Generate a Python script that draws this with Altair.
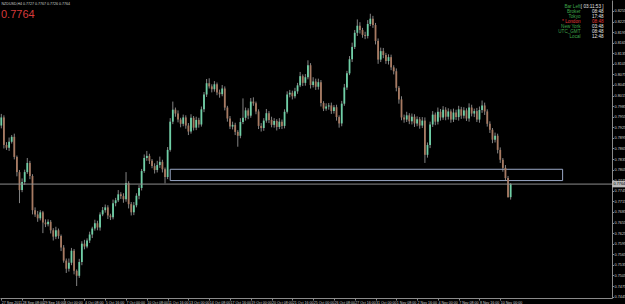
import json
import altair as alt
import pandas as pd

# ---------------- data ----------------
symbol_header = "NZDUSD,H4  0.7727 0.7767 0.7726 0.7764"
first_open = 0.7930
# H4 closes in pips (price * 10000)
closes_pips = [
    7953, 7875, 7867, 7884, 7898, 7841, 7798, 7747, 7770, 7798,
    7824, 7787, 7690, 7678, 7667, 7684, 7655, 7650, 7657, 7633,
    7615, 7633, 7617, 7584, 7547, 7524, 7541, 7575, 7518, 7504,
    7543, 7595, 7587, 7604, 7621, 7638, 7653, 7641, 7678, 7690,
    7698, 7675, 7670, 7710, 7718, 7735, 7730, 7721, 7767, 7707,
    7684, 7704, 7731, 7753, 7801, 7838, 7844, 7830, 7815, 7804,
    7818, 7827, 7806, 7784, 7861, 7941, 7975, 7964, 7947, 7935,
    7953, 7930, 7913, 7952, 7924, 7946, 7933, 7976, 8018, 8050,
    8041, 8033, 8047, 8024, 8019, 8035, 7981, 7950, 7927, 7932,
    7912, 7901, 7940, 7952, 7973, 7958, 7998, 7993, 7970, 7929,
    7923, 7944, 7965, 7946, 7932, 7943, 7926, 7941, 7929, 7969,
    8018, 8023, 8013, 8027, 8044, 8070, 8051, 8067, 8101, 8045,
    8055, 8040, 8053, 7994, 7978, 7984, 7987, 7971, 7982, 7954,
    7936, 7992, 8038, 8078, 8118, 8153, 8193, 8213, 8201, 8187,
    8184, 8218, 8233, 8215, 8170, 8117, 8141, 8130, 8113, 8124,
    8095, 8084, 8037, 8004, 7953, 7947, 7959, 7942, 7955, 7936,
    7948, 7930, 7944, 7847, 7875, 7933, 7961, 7941, 7969, 7953,
    7975, 7955, 7970, 7947, 7967, 7954, 7976, 7958, 7973, 7950,
    7981, 7964, 7971, 7947, 7974, 7987, 7970, 7935, 7918, 7890,
    7901, 7861, 7833, 7810, 7781, 7727, 7764,
]
# upper / lower shadow lengths in pips
up_wick = [
    10, 6, 8, 12, 5, 9, 4, 6, 10, 7,
    14, 6, 5, 8, 10, 6, 4, 9, 7, 5,
    6, 10, 5, 4, 7, 6, 12, 8, 5, 4,
    9, 7, 11, 6, 8, 5, 10, 7, 6, 9,
    8, 6, 5, 10, 7, 12, 6, 8, 31, 5,
    6, 9, 7, 8, 6, 10, 14, 6, 5, 8,
    12, 15, 6, 5, 8, 10, 23, 6, 9, 5,
    8, 6, 7, 10, 5, 9, 6, 8, 7, 12,
    14, 6, 9, 5, 8, 10, 6, 5, 7, 9,
    6, 5, 11, 55, 8, 6, 10, 12, 5, 6,
    8, 7, 12, 6, 9, 8, 5, 10, 6, 7,
    9, 8, 6, 10, 7, 12, 5, 9, 14, 6,
    12, 8, 10, 6, 5, 9, 7, 8, 6, 7,
    5, 8, 10, 7, 9, 12, 8, 18, 10, 6,
    9, 11, 14, 8, 6, 7, 10, 9, 6, 8,
    7, 6, 8, 5, 9, 8, 10, 6, 9, 7,
    8, 6, 10, 9, 7, 8, 10, 6, 12, 8,
    10, 7, 9, 6, 11, 8, 10, 7, 9, 6,
    12, 8, 7, 9, 10, 14, 8, 6, 7, 5,
    9, 6, 7, 5, 8, 6, 3,
]
down_wick = [
    8, 10, 6, 9, 5, 7, 12, 37, 6, 8,
    5, 9, 12, 7, 10, 6, 30, 8, 6, 9,
    11, 7, 8, 10, 6, 12, 8, 7, 10, 29,
    6, 9, 8, 5, 7, 10, 6, 8, 9, 5,
    7, 10, 8, 6, 9, 5, 8, 10, 7, 12,
    9, 8, 6, 10, 7, 5, 8, 9, 6, 10,
    7, 8, 9, 18, 6, 5, 7, 9, 8, 10,
    7, 9, 10, 6, 8, 7, 9, 6, 8, 7,
    6, 9, 7, 8, 10, 6, 8, 9, 7, 8,
    9, 31, 7, 6, 8, 10, 6, 7, 8, 9,
    10, 8, 6, 9, 7, 8, 10, 6, 9, 7,
    5, 8, 9, 6, 7, 5, 9, 8, 6, 10,
    7, 9, 8, 10, 7, 6, 9, 8, 7, 10,
    12, 8, 6, 7, 5, 8, 6, 9, 10, 8,
    9, 7, 6, 8, 10, 12, 7, 9, 8, 10,
    8, 9, 10, 12, 8, 9, 7, 8, 9, 10,
    8, 9, 7, 23, 8, 9, 7, 10, 8, 9,
    7, 10, 8, 9, 7, 8, 10, 9, 8, 7,
    9, 8, 10, 7, 9, 8, 10, 8, 9, 10,
    8, 10, 9, 11, 8, 1, 7,
]
x_labels = [
    "27 Sep 2011", "28 Sep 08:00", "29 Sep 16:00", "3 Oct 00:00", "4 Oct 08:00",
    "5 Oct 16:00", "7 Oct 00:00", "10 Oct 08:00", "11 Oct 16:00", "13 Oct 00:00",
    "14 Oct 08:00", "17 Oct 16:00", "19 Oct 00:00", "20 Oct 08:00", "21 Oct 16:00",
    "25 Oct 00:00", "26 Oct 08:00", "27 Oct 16:00", "31 Oct 00:00", "1 Nov 08:00",
    "2 Nov 16:00", "4 Nov 00:00", "7 Nov 08:00", "8 Nov 16:00", "10 Nov 00:00",
]
label_every = 8
y_ticks = [
    0.7445, 0.7475, 0.7505, 0.7535, 0.7565, 0.7595, 0.7625, 0.7655, 0.7685,
    0.7715, 0.7745, 0.7775, 0.7805, 0.7835, 0.7865, 0.7895, 0.7925, 0.7955,
    0.7985, 0.8015, 0.8045, 0.8075, 0.8105, 0.8135, 0.8165, 0.8195, 0.8225,
    0.8255,
]
last_price = 0.7764
zone_start, zone_end = 65, 216
zone_low, zone_high = 0.7774, 0.7806

info_names = ["Bar Left", "Broker", "Tokyo", "* London", "New York", "UTC_GMT", "Local"]
info_values = ["[ 03:11:53 ]", "08:48", "17:48", "08:48", "03:48", "08:48", "12:48"]
info_highlight = [False, False, False, True, False, False, False]

# ---------------- build table ----------------
closes = [c / 10000 for c in closes_pips]
opens = [first_open] + closes[:-1]
rows = []
for i, (o, c, u, d) in enumerate(zip(opens, closes, up_wick, down_wick)):
    rows.append({
        "i": i,
        "open": o,
        "close": c,
        "high": max(o, c) + u / 10000,
        "low": min(o, c) - d / 10000,
        "dir": "up" if c >= o else "down",
    })
df = pd.DataFrame(rows)

FONT = "Liberation Sans"
UP = "#6fcfa6"
DOWN = "#a77a62"
WICK = "#a4a4a4"
AXC = "#8a8a8a"
LBL = "#cfcfcf"

xscale = alt.Scale(domain=[-0.5, 235], nice=False, zero=False)
yscale = alt.Scale(domain=[0.7441, 0.8286], nice=False, zero=False)

label_expr = json.dumps(x_labels) + f"[round(datum.value/{label_every})]"
xaxis = alt.Axis(
    values=[k * label_every for k in range(len(x_labels))],
    labelExpr=label_expr, labelAlign="left", labelBaseline="top",
    labelFontSize=3.6, labelColor=LBL, labelFont=FONT, labelPadding=0.5,
    labelFlush=False, labelOverlap=False, labelSeparation=0,
    tickSize=2, tickColor=AXC, domainColor=AXC, title=None, grid=False,
)
yaxis = alt.Axis(
    orient="right", values=y_ticks, format=".4f",
    labelFontSize=3.8, labelColor=LBL, labelFont=FONT, labelPadding=0.5,
    labelFlush=False, labelOverlap=False, labelSeparation=0,
    tickSize=1.5, tickColor=AXC, domainColor=AXC, title=None, grid=False,
)

base = alt.Chart(df)
wicks = base.mark_rule(color=WICK, strokeWidth=0.8).encode(
    x=alt.X("i:Q", scale=xscale, axis=xaxis),
    y=alt.Y("low:Q", scale=yscale, axis=yaxis),
    y2="high:Q",
)
bodies = base.mark_rule(strokeWidth=1.8, strokeCap="butt").encode(
    x=alt.X("i:Q", scale=xscale, axis=xaxis),
    y=alt.Y("open:Q", scale=yscale, axis=yaxis),
    y2="close:Q",
    color=alt.Color("dir:N", scale=alt.Scale(domain=["up", "down"], range=[UP, DOWN]), legend=None),
)

zone_df = pd.DataFrame([{"x1": zone_start, "x2": zone_end, "y1": zone_low, "y2": zone_high}])
zone = alt.Chart(zone_df).mark_rect(filled=False, stroke="#9aa8c6", strokeWidth=1).encode(
    x=alt.X("x1:Q", scale=xscale, axis=xaxis), x2="x2:Q",
    y=alt.Y("y1:Q", scale=yscale, axis=yaxis), y2="y2:Q",
)

price_df = pd.DataFrame([{"p": last_price, "t": f"{last_price:.4f}"}])
price_line = alt.Chart(price_df).mark_rule(color="#8e8e8e", strokeWidth=1).encode(
    y=alt.Y("p:Q", scale=yscale, axis=yaxis)
)
price_box = alt.Chart(price_df).mark_rule(color="#b8b8b8", strokeWidth=6.5, strokeCap="butt").encode(
    y=alt.Y("p:Q", scale=yscale, axis=yaxis), x=alt.value(612), x2=alt.value(625)
)
price_txt = alt.Chart(price_df).mark_text(
    align="left", baseline="middle", fontSize=3.8, font=FONT, color="#000000"
).encode(y=alt.Y("p:Q", scale=yscale, axis=yaxis), x=alt.value(613.5), text="t:N")

layers = [zone, wicks, bodies, price_line, price_box, price_txt]

# header texts
hdr_df = pd.DataFrame([{"t": symbol_header, "big": f"{last_price:.4f}"}])
layers.append(alt.Chart(hdr_df).mark_text(
    align="left", baseline="middle", fontSize=3.6, font=FONT, color=LBL
).encode(x=alt.value(1.5), y=alt.value(3.5), text="t:N"))
layers.append(alt.Chart(hdr_df).mark_text(
    align="left", baseline="alphabetic", fontSize=11, font=FONT, color="#d63a3a"
).encode(x=alt.value(1), y=alt.value(17.5), text="big:N"))

# info block (clock panel)
for r, (nm, val, hl) in enumerate(zip(info_names, info_values, info_highlight)):
    d1 = pd.DataFrame([{"n": nm, "v": val}])
    ypix = 6.7 + r * 5.0
    layers.append(alt.Chart(d1).mark_text(
        align="right", baseline="middle", fontSize=4.6, font=FONT,
        color="#e23a3a" if hl else "#3fa54a",
    ).encode(x=alt.value(580.5), y=alt.value(ypix), text="n:N"))
    layers.append(alt.Chart(d1).mark_text(
        align="right", baseline="middle", fontSize=4.6, font=FONT,
        color="#e23a3a" if hl else "#e6e6e6",
    ).encode(x=alt.value(603.5), y=alt.value(ypix), text="v:N"))

chart = alt.layer(*layers).properties(
    width=612, height=298,
    background="#000000",
    padding={"left": 0, "top": 0, "right": 13, "bottom": 6},
    autosize=alt.AutoSizeParams(type="none"),
).configure_view(stroke=None).configure_axis(labelOverlap=False, labelSeparation=0)

chart.save("out.html", embed_options={"renderer": "svg", "actions": False})
